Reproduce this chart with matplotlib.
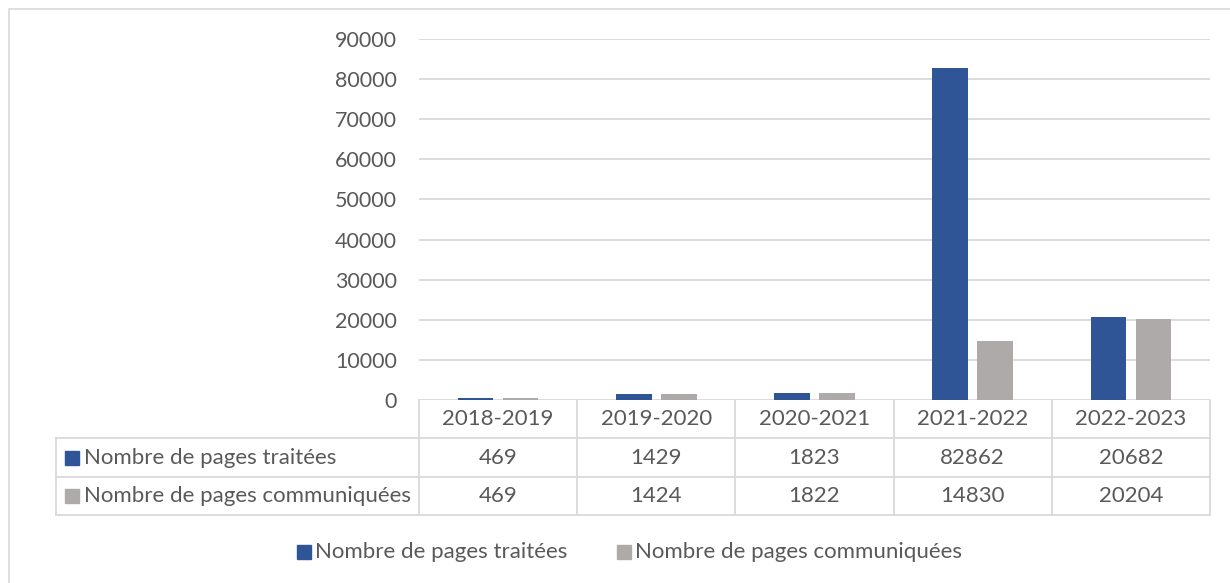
import matplotlib
matplotlib.use("Agg")
import matplotlib.pyplot as plt
from matplotlib.lines import Line2D
from matplotlib.patches import Rectangle
import numpy as np

plt.rcParams['font.family'] = ['Lato', 'DejaVu Sans']

categories = ["2018-2019", "2019-2020", "2020-2021", "2021-2022", "2022-2023"]
traitees = [469, 1429, 1823, 82862, 20682]
communiquees = [469, 1424, 1822, 14830, 20204]
series_names = ["Nombre de pages traitées", "Nombre de pages communiquées"]
yticks = list(range(0, 90001, 10000))

BLUE = "#2F5597"
GRAY = "#AEAAAA"
GRID = "#D9D9D9"
TEXT = "#595959"
FS = 16

W, H = 1230, 583
fig = plt.figure(figsize=(W / 100, H / 100), dpi=100)

def fx(x):
    return x / W

def fy(y):
    return 1 - y / H

# outer chart frame (partially cropped)
fig.add_artist(Rectangle((fx(9), fy(640)), fx(1260 - 9), 640 / H - 9 / H,
                         transform=fig.transFigure, fill=False, edgecolor=GRID, lw=1.2))

L, R, T, B = 419, 1210, 39, 400
ax = fig.add_axes([fx(L), fy(B), fx(R - L), (B - T) / H])
x = np.arange(len(categories))
bw = 0.225
off = 0.142
ax.bar(x - off, traitees, width=bw, color=BLUE, zorder=3)
ax.bar(x + off, communiquees, width=bw, color=GRAY, zorder=3)
ax.set_xlim(-0.5, len(categories) - 0.5)
ax.set_ylim(0, 90000)
ax.set_yticks(yticks)
ax.set_yticklabels([str(v) for v in yticks], fontsize=FS - 0.5, color=TEXT)
ax.tick_params(axis='y', length=0, pad=16)
ax.set_xticks([])
for s in ax.spines.values():
    s.set_visible(False)
ax.grid(axis='y', color=GRID, lw=1.3, zorder=0)
ax.set_axisbelow(True)

# data table
rows_y = [400, 438, 477, 515]
col_x = [L + (R - L) * i / len(categories) for i in range(len(categories) + 1)]
tl = 56
lc = GRID
lw = 1.3
for yy in rows_y[1:]:
    fig.add_artist(Line2D([fx(tl), fx(R)], [fy(yy), fy(yy)], color=lc, lw=lw))
fig.add_artist(Line2D([fx(tl), fx(tl)], [fy(rows_y[1]), fy(rows_y[3])], color=lc, lw=lw))
for cx in col_x:
    fig.add_artist(Line2D([fx(cx), fx(cx)], [fy(rows_y[0]), fy(rows_y[3])], color=lc, lw=lw))

for i, c in enumerate(categories):
    cx = (col_x[i] + col_x[i + 1]) / 2
    fig.text(fx(cx), fy((rows_y[0] + rows_y[1]) / 2), c, ha='center', va='center',
             fontsize=FS, color=TEXT)
    fig.text(fx(cx), fy((rows_y[1] + rows_y[2]) / 2), str(traitees[i]), ha='center',
             va='center', fontsize=FS, color=TEXT)
    fig.text(fx(cx), fy((rows_y[2] + rows_y[3]) / 2), str(communiquees[i]), ha='center',
             va='center', fontsize=FS, color=TEXT)

for r, (name, col) in enumerate(zip(series_names, [BLUE, GRAY])):
    yc = (rows_y[r + 1] + rows_y[r + 2]) / 2
    fig.add_artist(Rectangle((fx(65), fy(yc + 7)), fx(14), 14 / H,
                             transform=fig.transFigure, color=col))
    fig.text(fx(84), fy(yc), name, ha='left', va='center', fontsize=FS, color=TEXT)

# legend
ly = 552
leg_items = [(297, BLUE, series_names[0]), (617, GRAY, series_names[1])]
for sx, col, name in leg_items:
    fig.add_artist(Rectangle((fx(sx), fy(ly + 7)), fx(14), 14 / H,
                             transform=fig.transFigure, color=col))
    fig.text(fx(sx + 18), fy(ly), name, ha='left', va='center', fontsize=FS, color=TEXT)

fig.savefig("out.png", dpi=100)
